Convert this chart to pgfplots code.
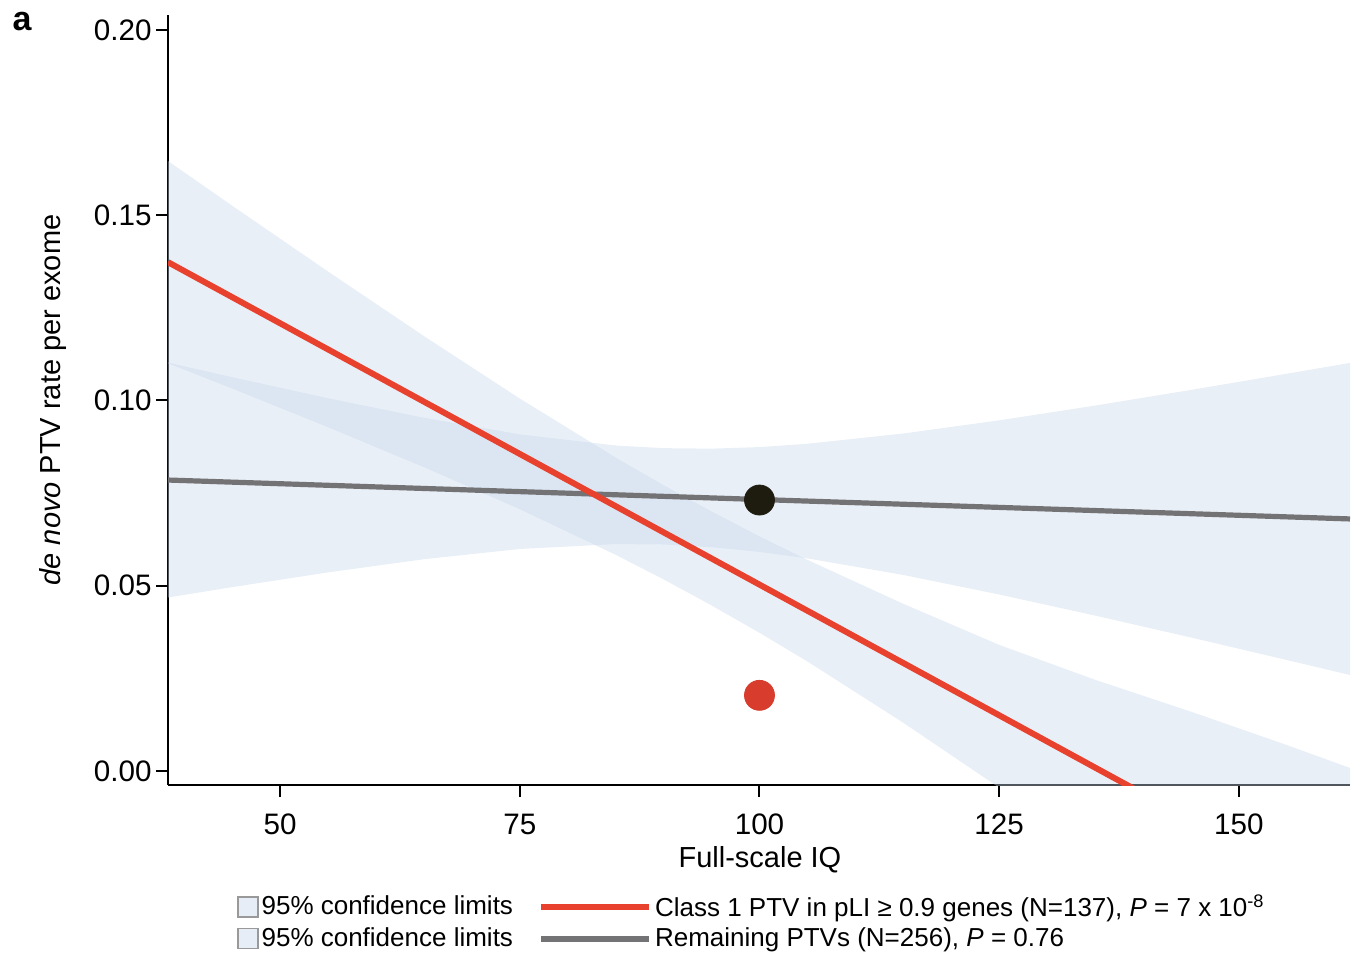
\documentclass[border=0pt]{standalone}
\usepackage{fontspec}
\setmainfont{Liberation Sans}
\usepackage{pgfplots}
\pgfplotsset{compat=1.18}
\definecolor{bandc}{RGB}{200,215,235}
\definecolor{redl}{RGB}{232,65,45}
\definecolor{grayl}{RGB}{115,115,118}
\definecolor{reddot}{RGB}{215,60,45}
\definecolor{darkdot}{RGB}{30,28,15}
\begin{document}
\begin{tikzpicture}
\begin{axis}[
  at={(0,0)}, anchor=south west,
  scale only axis, width=591pt, height=385pt,
  xmin=38.3, xmax=161.6, ymin=-0.0038, ymax=0.2040,
  axis lines=left, axis line style={-, line width=1pt},
  tick align=outside, major tick length=6pt, tick style={black, line width=1pt},
  xtick={50,75,100,125,150}, ytick={0,0.05,0.1,0.15,0.2},
  scaled y ticks=false,
  y tick label style={/pgf/number format/.cd, fixed, fixed zerofill, precision=2, assume math mode=true, /tikz/.cd},
  x tick label style={/pgf/number format/.cd, assume math mode=true, /tikz/.cd},
  ticklabel style={font=\fontsize{14.8}{17}\selectfont},
  yticklabel style={inner sep=2pt},
  xticklabel style={yshift=-5pt},
  xlabel={Full-scale IQ},
  ylabel={\textit{de novo} PTV rate per exome},
  label style={font=\fontsize{14.5}{17}\selectfont},
  xlabel style={at={(axis description cs:0.5008,-0.0975)}, anchor=center},
  ylabel style={at={(axis description cs:-0.0975,0.5)}, anchor=center, rotate=0},
  legend style={draw=none, fill=none, at={(axis description cs:0.0533,-0.133)}, anchor=north west,
    font=\fontsize{13}{15.5}\selectfont, nodes={inner sep=1.5pt}, row sep=1.2pt,
    /tikz/every even column/.append style={column sep=11pt}},
  legend columns=2, legend cell align=left,
]
% red CI band
\addplot[draw=none, fill=bandc, fill opacity=0.4, forget plot] coordinates {
(38.3,0.1646) (45,0.15253) (55,0.13476) (65,0.11734) (75,0.10049) (85,0.08458) (90,0.07712) (95,0.07003) (100,0.06332) (105,0.05696) (115,0.0451) (125,0.03402) (135,0.0246) (145,0.0160) (155,0.0070) (161.6,0.0008)
(161.6,-0.0740) (155,-0.0610) (145,-0.0410) (135,-0.0222) (125,-0.0045) (115,0.0130) (105,0.02954) (100,0.03728) (95,0.04467) (90,0.05168) (85,0.05832) (75,0.07061) (65,0.08196) (55,0.09274) (45,0.10317) (38.3,0.1100)
};
% gray CI band
\addplot[draw=none, fill=bandc, fill opacity=0.4, forget plot] coordinates {
(38.3,0.1102) (45,0.10626) (55,0.10058) (65,0.09531) (75,0.09084) (85,0.08782) (90,0.0871) (95,0.08697) (100,0.08739) (105,0.08829) (115,0.09106) (125,0.09461) (135,0.09859) (145,0.10281) (155,0.10718) (161.6,0.11011)
(161.6,0.02589) (155,0.02994) (145,0.03601) (135,0.04193) (125,0.04761) (115,0.05288) (105,0.05735) (100,0.05909) (95,0.06037) (90,0.0611) (85,0.06122) (75,0.0599) (65,0.05713) (55,0.05358) (45,0.0496) (38.3,0.0468)
};
\addplot[grayl, line width=2.6pt, forget plot] coordinates {(38.3,0.0785) (161.6,0.0680)};
\addplot[redl, line width=3pt, forget plot] coordinates {(38.3,0.1373) (161.6,-0.0366)};
\addplot[only marks, mark=*, mark size=7.5pt, mark options={fill=darkdot, draw=darkdot}, forget plot] coordinates {(100,0.0731)};
\addplot[only marks, mark=*, mark size=7.5pt, mark options={fill=reddot, draw=reddot}, forget plot] coordinates {(100,0.0204)};
\addlegendimage{legend image code/.code={\draw[fill=bandc!45, draw=gray!80, line width=0.6pt] (0pt,-5pt) rectangle (10pt,5pt);}}
\addlegendentry{95\% confidence limits}
\addlegendimage{legend image code/.code={\draw[redl, line width=3pt] (0pt,0pt) -- (54pt,0pt);}}
\addlegendentry{Class 1 PTV in pLI ≥ 0.9 genes (N=137), \textit{P} = 7 x 10\textsuperscript{-8}}
\addlegendimage{legend image code/.code={\draw[fill=bandc!45, draw=gray!80, line width=0.6pt] (0pt,-5pt) rectangle (10pt,5pt);}}
\addlegendentry{95\% confidence limits}
\addlegendimage{legend image code/.code={\draw[grayl, line width=3pt] (0pt,0pt) -- (54pt,0pt);}}
\addlegendentry{Remaining PTVs (N=256), \textit{P} = 0.76}
\end{axis}
\node[font=\bfseries\fontsize{17}{20}\selectfont] at (-73pt,381.5pt) {a};
\pgfresetboundingbox
\useasboundingbox (-84pt,-84.5pt) rectangle (596pt,392.5pt);
\end{tikzpicture}
\end{document}
